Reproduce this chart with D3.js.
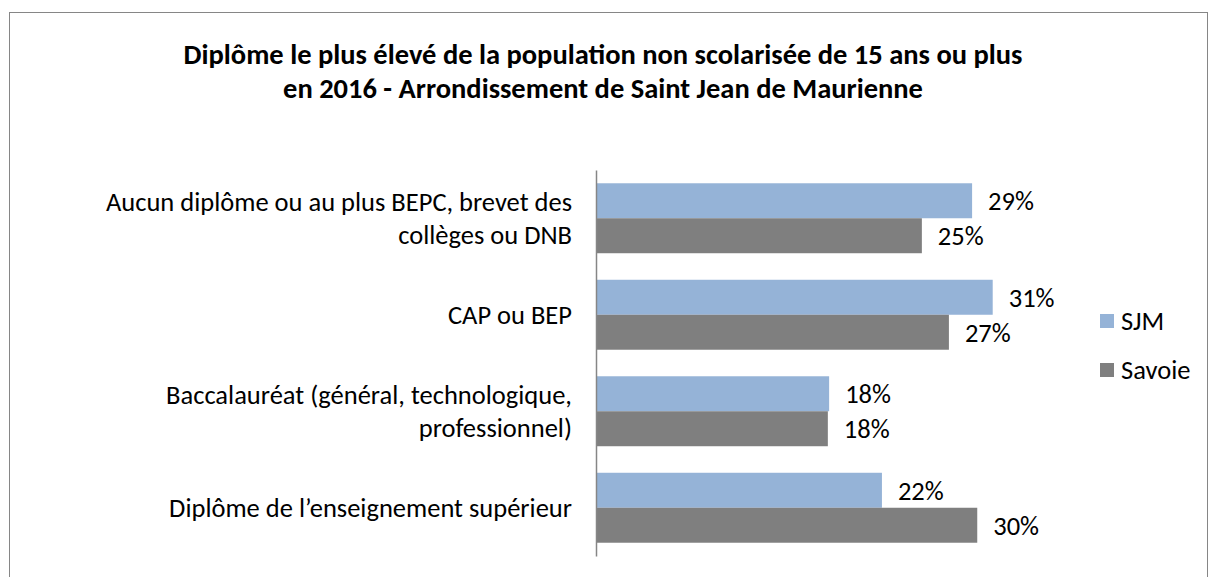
<!DOCTYPE html>
<html>
<head>
<meta charset="utf-8">
<script src="https://cdn.jsdelivr.net/npm/d3@7"></script>
<style>
  html, body { margin: 0; padding: 0; background: #fff; }
  svg { display: block; font-family: Calibri, Carlito, Lato, sans-serif; }
</style>
</head>
<body>
<div id="chart"></div>
<script>
// Données
const categories = [
  "Aucun diplôme ou au plus BEPC, brevet des\ncollèges ou DNB",
  "CAP ou BEP",
  "Baccalauréat (général, technologique,\nprofessionnel)",
  "Diplôme de l’enseignement supérieur",
];
const series = ["SJM", "Savoie"];
const valeursSJM = [29.2, 30.8, 18.1, 22.2];
const valeursSavoie = [25.3, 27.4, 18.0, 29.6];
const couleurs = ["#95B3D7", "#7F7F7F"];
const titre = [
  "Diplôme le plus élevé de la population non scolarisée de 15 ans ou plus",
  "en 2016 - Arrondissement de Saint Jean de Maurienne",
];

const width = 1208,
  height = 577;
const taille = "26.5px";

const svg = d3
  .select("#chart")
  .append("svg")
  .attr("width", width)
  .attr("height", height);

// Cadre
svg
  .append("rect")
  .attr("x", 9.5)
  .attr("y", 12.5)
  .attr("width", 1198)
  .attr("height", 600)
  .attr("fill", "none")
  .attr("stroke", "#868686")
  .attr("stroke-width", 1);

// Titre
svg
  .append("g")
  .selectAll("text")
  .data(titre)
  .enter()
  .append("text")
  .attr("x", 603)
  .attr("y", (d, i) => 64 + i * 34)
  .attr("text-anchor", "middle")
  .style("font-weight", "bold")
  .style("font-size", "28.5px")
  .attr("fill", "#000")
  .text((d) => d);

// Echelles
const y = d3
  .scaleBand()
  .domain(categories)
  .range([170, 556])
  .paddingInner(0.275)
  .paddingOuter(0.1375);

const ySub = d3.scaleBand().domain(series).range([0, y.bandwidth()]);

const x = d3.scaleLinear().domain([0, 35]).range([596, 596 + 35 * 12.88]);

const rows = categories.map((c, i) => ({
  categorie: c,
  valeurs: [
    { serie: "SJM", valeur: valeursSJM[i] },
    { serie: "Savoie", valeur: valeursSavoie[i] },
  ],
}));

const color = d3.scaleOrdinal().domain(series).range(couleurs);

const groups = svg
  .selectAll(".groupe")
  .data(rows)
  .enter()
  .append("g")
  .attr("class", "groupe")
  .attr("transform", (d) => `translate(0, ${y(d.categorie)})`);

groups
  .selectAll("rect")
  .data((d) => d.valeurs)
  .enter()
  .append("rect")
  .attr("x", x(0))
  .attr("y", (d) => ySub(d.serie))
  .attr("width", (d) => x(d.valeur) - x(0))
  .attr("height", ySub.bandwidth())
  .attr("fill", (d) => color(d.serie));

// Etiquettes de valeurs
groups
  .selectAll(".val")
  .data((d) => d.valeurs)
  .enter()
  .append("text")
  .attr("class", "val")
  .attr("x", (d) => x(d.valeur) + 16)
  .attr("y", (d) => ySub(d.serie) + ySub.bandwidth() / 2)
  .attr("dy", "0.35em")
  .style("font-size", taille)
  .attr("fill", "#000")
  .text((d) => Math.round(d.valeur) + "%");

// Axe vertical
const axis = svg
  .append("g")
  .attr("transform", `translate(${x(0)}, 0)`)
  .call(d3.axisLeft(y).tickSize(0).tickFormat(""));
axis.select(".domain").attr("stroke", "#868686").attr("stroke-width", 1.5);

// Libellés des catégories
svg
  .selectAll(".cat")
  .data(categories)
  .enter()
  .append("text")
  .attr("class", "cat")
  .attr("text-anchor", "end")
  .style("font-size", taille)
  .attr("fill", "#000")
  .each(function (d) {
    const lines = d.split("\n");
    const cy = y(d) + y.bandwidth() / 2;
    const lh = 33;
    d3.select(this)
      .selectAll("tspan")
      .data(lines)
      .enter()
      .append("tspan")
      .attr("x", 572)
      .attr("y", (l, i) => cy + (i - (lines.length - 1) / 2) * lh)
      .attr("dy", "0.35em")
      .text((l) => l);
  });

// Légende
const legend = svg
  .selectAll(".legende")
  .data(series)
  .enter()
  .append("g")
  .attr("class", "legende")
  .attr("transform", (d, i) => `translate(1100, ${321 + i * 49})`);

legend
  .append("rect")
  .attr("x", 0)
  .attr("y", -7)
  .attr("width", 14)
  .attr("height", 14)
  .attr("fill", (d) => color(d));

legend
  .append("text")
  .attr("x", 21)
  .attr("y", 0)
  .attr("dy", "0.35em")
  .style("font-size", taille)
  .attr("fill", "#000")
  .text((d) => d);
</script>
</body>
</html>
